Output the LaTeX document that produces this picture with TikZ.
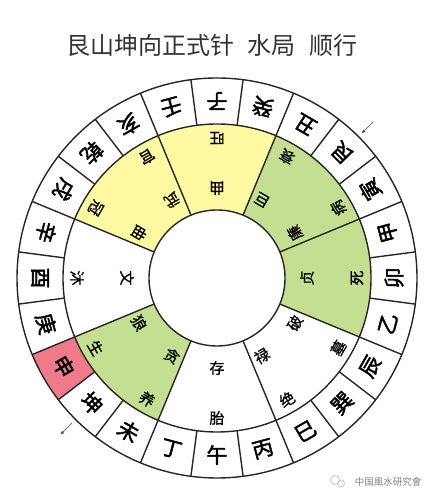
\documentclass[tikz,border=0pt]{standalone}
\usepackage{fontspec}
\setmainfont{Noto Sans CJK SC}
\newfontfamily\shanfont[FakeBold=2]{Noto Sans CJK SC}
\newfontfamily\xingfont[FakeBold=0.8]{Noto Sans CJK SC}
\usepackage{tikz}
\usetikzlibrary{arrows}

\definecolor{yelsec}{RGB}{255,249,163}
\definecolor{grnsec}{RGB}{197,223,146}
\definecolor{redcell}{RGB}{238,122,138}

\begin{document}
\begin{tikzpicture}[x=1pt,y=1pt,>=stealth',
            shan/.style={font=\shanfont\fontsize{21}{21}\selectfont,inner sep=0pt},
            xing/.style={font=\xingfont\fontsize{15}{15}\selectfont,inner sep=0pt},
            ring line/.style={line width=1.4pt,black!85}]
        \useasboundingbox (0,0) rectangle (436,500);

        \node[font=\fontsize{24}{24}\selectfont,text=black!80] (title) at (212,455)
            {艮山坤向正式针\hspace{14pt}水局\hspace{14pt}顺行};

        \begin{scope}[shift={(217,222)}]
        % coloured sectors
        \foreach \s/\c in {-22.5/grnsec,22.5/grnsec,67.5/yelsec,112.5/yelsec,202.5/grnsec}
            \fill[\c] (\s:68) arc[start angle=\s,end angle=\s+45,radius=68]
                -- (\s+45:154) arc[start angle=\s+45,end angle=\s,radius=154] -- cycle;
        \fill[redcell] (202.5:154) arc[start angle=202.5,end angle=217.5,radius=154]
            -- (217.5:200) arc[start angle=217.5,end angle=202.5,radius=200] -- cycle;

        \draw[ring line] (0,0) circle[radius=68] circle[radius=154] circle[radius=200];
        \foreach \k in {0,...,23}
            \draw[ring line] (7.5+15*\k:154) -- (7.5+15*\k:200);
        \foreach \k in {0,...,7}
            \draw[ring line] (22.5+45*\k:68) -- (22.5+45*\k:154);

        % 24 mountains
        \foreach \m [count=\i from 0] in {子,癸,丑,艮,寅,甲,卯,乙,辰,巽,巳,丙,午,丁,未,坤,申,庚,酉,辛,戌,乾,亥,壬}
            \node[shan,rotate=180-15*\i] (shan-\i) at (90-15*\i:177) {\m};

        % stars and stages
        \foreach \x/\y [count=\i from 0] in {贞/死,廉/病,巨/衰,曲/旺,武/官,曲/冠,文/沐,狼/生,贪/养,存/胎,禄/绝,破/墓}{
            \node[xing,rotate=90+30*\i] (xing-\i) at (30*\i:90) {\x};
            \node[xing,rotate=90+30*\i] (stage-\i) at (30*\i:140) {\y};
        }

        \coordinate (gen-tail) at (45:221);
        \coordinate (gen-head) at (45:205);
        \coordinate (kun-tail) at (225:205);
        \coordinate (kun-head) at (225:221);
        \draw[->,thin,black!70] (gen-tail) -- (gen-head);
        \draw[->,thin,black!70] (kun-tail) -- (kun-head);
        \end{scope}

        \draw[gray!45,line width=0.8pt] (335,20) circle[radius=4.5] (341,16.5) circle[radius=3.5];
        \node[font=\fontsize{9.5}{10}\selectfont,text=gray] (mark) at (388,18) {中国風水研究會};
    \end{tikzpicture}
\end{document}
